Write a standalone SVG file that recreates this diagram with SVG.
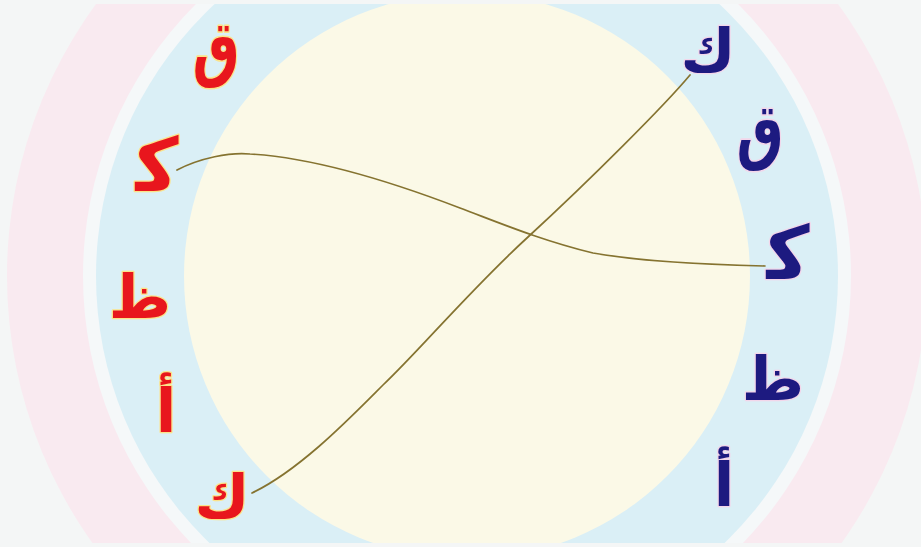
<svg xmlns="http://www.w3.org/2000/svg" width="921" height="547" viewBox="0 0 921 547">
<style>
.l{font-family:"DejaVu Sans",sans-serif;font-weight:bold;text-anchor:middle;paint-order:stroke;stroke-linejoin:round}
.red{fill:#e8161d;stroke:#fbe38a;stroke-width:2.5}
.navy{fill:#1d1a80;stroke:#f3d6ea;stroke-width:2.5}
.c{fill:none;stroke:#857330;stroke-width:1.7;stroke-linecap:round}
</style>
<defs><clipPath id="clip"><rect x="0" y="4" width="921" height="539"/></clipPath></defs>
<rect width="921" height="547" fill="#f4f6f6"/>
<g id="background" clip-path="url(#clip)">
<circle cx="467" cy="276" r="460" fill="#f9eaf0"/>
<circle cx="467" cy="276" r="384" fill="#f5f8f9"/>
<circle cx="467" cy="276" r="371" fill="#daeff6"/>
<circle cx="467" cy="276" r="283" fill="#fbf9e7"/>
</g>
<g id="connectors">
<path class="c" d="M177,170 C200,158 230,152 250,154 C320,158 400,185 460,208 C500,223 540,240 593,253 C650,263 720,265 765,266"/>
<path class="c" d="M690,75 C665,105 590,180 528,237 C470,290 420,350 383,385 C350,418 300,470 252,493"/>
</g>
<g id="left-qaf"><text class="l red" transform="translate(216,72) scale(0.88,1.22)" font-size="60">ق</text></g>
<g id="left-kaf1"><text class="l red" x="157" y="191" font-size="74">ﻛ</text></g>
<g id="left-zah"><text class="l red" x="140" y="318" font-size="60">ظ</text></g>
<g id="left-alef"><text class="l red" x="166" y="432" font-size="60">أ</text></g>
<g id="left-kaf2"><text class="l red" x="222" y="518" font-size="60">ك</text></g>
<g id="right-kaf2"><text class="navy l" x="708" y="72" font-size="60">ك</text></g>
<g id="right-qaf"><text class="navy l" transform="translate(760,155) scale(0.88,1.22)" font-size="60">ق</text></g>
<g id="right-kaf1"><text class="navy l" x="788" y="279" font-size="74">ﻛ</text></g>
<g id="right-zah"><text class="navy l" x="773" y="400" font-size="60">ظ</text></g>
<g id="right-alef"><text class="navy l" x="724" y="506" font-size="60">أ</text></g>
</svg>
